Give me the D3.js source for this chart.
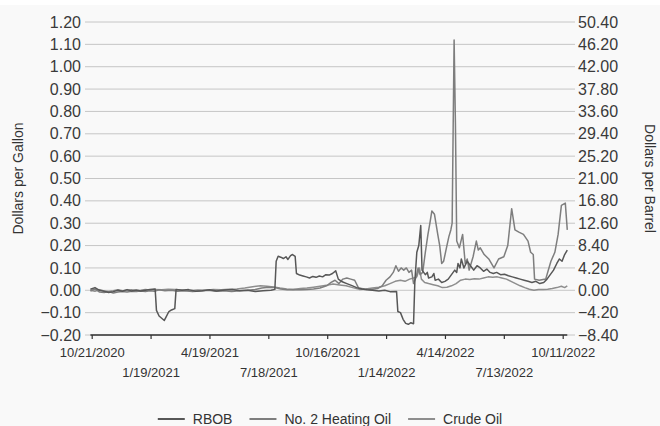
<!DOCTYPE html>
<html>
<head>
<meta charset="utf-8">
<script src="https://cdn.jsdelivr.net/npm/d3@7"></script>
<style>
  body { margin: 0; background: #ffffff; }
  svg { display: block; font-family: "Liberation Sans", Arial, sans-serif; }
</style>
</head>
<body>
<div id="chart"></div>
<script>
// Spreads, dollars per gallon (crude oil also shown as dollars per barrel on the right)
const seriesNames = ["RBOB", "No. 2 Heating Oil", "Crude Oil"];

const rbob = [
  ["2020-10-19", 0.005], ["2020-10-26", 0.012], ["2020-11-02", 0.0], ["2020-11-09", -0.004],
  ["2020-11-16", -0.01], ["2020-11-23", -0.006], ["2020-11-30", 0.0], ["2020-12-07", -0.004],
  ["2020-12-14", 0.003], ["2020-12-21", -0.003], ["2020-12-28", 0.001], ["2021-01-04", -0.003],
  ["2021-01-11", 0.0], ["2021-01-18", 0.003], ["2021-01-26", 0.006], ["2021-01-28", -0.09],
  ["2021-02-01", -0.115], ["2021-02-05", -0.125], ["2021-02-09", -0.135], ["2021-02-12", -0.118],
  ["2021-02-16", -0.095], ["2021-02-20", -0.088], ["2021-02-25", -0.082], ["2021-02-27", 0.004],
  ["2021-03-08", 0.0], ["2021-03-18", 0.003], ["2021-03-29", -0.004], ["2021-04-08", -0.002],
  ["2021-04-19", 0.002], ["2021-04-30", -0.003], ["2021-05-12", 0.001], ["2021-05-24", 0.003],
  ["2021-06-04", -0.002], ["2021-06-16", 0.0], ["2021-06-28", -0.005], ["2021-07-10", -0.002],
  ["2021-07-22", 0.0], ["2021-07-28", 0.004], ["2021-07-30", 0.13], ["2021-08-02", 0.152],
  ["2021-08-06", 0.148], ["2021-08-10", 0.142], ["2021-08-14", 0.15], ["2021-08-17", 0.138],
  ["2021-08-21", 0.155], ["2021-08-24", 0.16], ["2021-08-28", 0.152], ["2021-08-30", 0.075],
  ["2021-09-04", 0.068], ["2021-09-09", 0.064], ["2021-09-14", 0.06], ["2021-09-19", 0.055],
  ["2021-09-24", 0.062], ["2021-09-29", 0.058], ["2021-10-04", 0.064], ["2021-10-09", 0.06],
  ["2021-10-14", 0.07], ["2021-10-19", 0.068], ["2021-10-24", 0.075], ["2021-10-29", 0.087],
  ["2021-11-02", 0.05], ["2021-11-08", 0.038], ["2021-11-15", 0.03], ["2021-11-22", 0.022],
  ["2021-11-30", 0.012], ["2021-12-08", 0.006], ["2021-12-16", 0.002], ["2021-12-24", 0.0],
  ["2022-01-03", -0.003], ["2022-01-12", 0.0], ["2022-01-20", -0.006], ["2022-01-30", -0.005],
  ["2022-02-01", -0.095], ["2022-02-05", -0.1], ["2022-02-09", -0.13], ["2022-02-13", -0.148],
  ["2022-02-17", -0.152], ["2022-02-21", -0.145], ["2022-02-25", -0.15], ["2022-02-27", 0.04],
  ["2022-03-02", 0.17], ["2022-03-05", 0.2], ["2022-03-08", 0.29], ["2022-03-10", 0.09],
  ["2022-03-15", 0.07], ["2022-03-18", 0.08], ["2022-03-20", 0.055], ["2022-03-25", 0.06],
  ["2022-03-28", 0.075], ["2022-03-30", 0.045], ["2022-04-04", 0.05], ["2022-04-09", 0.035],
  ["2022-04-14", 0.04], ["2022-04-19", 0.05], ["2022-04-24", 0.07], ["2022-04-29", 0.09],
  ["2022-05-02", 0.08], ["2022-05-04", 0.12], ["2022-05-07", 0.1], ["2022-05-09", 0.14],
  ["2022-05-13", 0.1], ["2022-05-18", 0.13], ["2022-05-23", 0.11], ["2022-05-28", 0.09],
  ["2022-06-02", 0.11], ["2022-06-07", 0.1], ["2022-06-12", 0.085], ["2022-06-17", 0.095],
  ["2022-06-22", 0.08], ["2022-06-27", 0.075], ["2022-07-02", 0.08], ["2022-07-08", 0.07],
  ["2022-07-14", 0.072], ["2022-07-20", 0.065], ["2022-07-26", 0.06], ["2022-08-01", 0.055],
  ["2022-08-07", 0.05], ["2022-08-13", 0.045], ["2022-08-19", 0.04], ["2022-08-25", 0.035],
  ["2022-08-31", 0.04], ["2022-09-06", 0.03], ["2022-09-12", 0.035], ["2022-09-17", 0.05],
  ["2022-09-22", 0.07], ["2022-09-27", 0.09], ["2022-10-02", 0.12], ["2022-10-06", 0.14],
  ["2022-10-10", 0.13], ["2022-10-14", 0.16], ["2022-10-18", 0.18]
];

const heatingOil = [
  ["2020-10-19", -0.003], ["2020-10-26", 0.006], ["2020-11-02", -0.008], ["2020-11-09", -0.01],
  ["2020-11-16", -0.006], ["2020-11-23", -0.012], ["2020-11-30", -0.008], ["2020-12-07", -0.005],
  ["2020-12-14", -0.008], ["2020-12-21", -0.004], ["2020-12-28", -0.006], ["2021-01-04", -0.003],
  ["2021-01-11", -0.006], ["2021-01-18", -0.002], ["2021-01-25", -0.004], ["2021-02-01", 0.002],
  ["2021-02-10", -0.002], ["2021-02-20", 0.0], ["2021-03-01", -0.004], ["2021-03-12", -0.002],
  ["2021-03-24", -0.006], ["2021-04-05", -0.003], ["2021-04-17", 0.0], ["2021-04-29", -0.004],
  ["2021-05-11", -0.002], ["2021-05-23", -0.005], ["2021-06-04", -0.002], ["2021-06-16", 0.0],
  ["2021-06-28", 0.004], ["2021-07-08", 0.01], ["2021-07-18", 0.014], ["2021-07-28", 0.012],
  ["2021-08-06", 0.006], ["2021-08-16", 0.002], ["2021-08-26", 0.004], ["2021-09-05", 0.002],
  ["2021-09-15", 0.004], ["2021-09-25", 0.006], ["2021-10-05", 0.01], ["2021-10-15", 0.02],
  ["2021-10-22", 0.035], ["2021-10-28", 0.045], ["2021-11-03", 0.03], ["2021-11-09", 0.05],
  ["2021-11-15", 0.055], ["2021-11-21", 0.05], ["2021-11-27", 0.045], ["2021-12-03", 0.01],
  ["2021-12-12", 0.006], ["2021-12-22", 0.004], ["2022-01-01", 0.008], ["2022-01-08", 0.02],
  ["2022-01-14", 0.045], ["2022-01-20", 0.06], ["2022-01-25", 0.08], ["2022-01-29", 0.11],
  ["2022-02-02", 0.085], ["2022-02-06", 0.1], ["2022-02-10", 0.09], ["2022-02-14", 0.1],
  ["2022-02-18", 0.08], ["2022-02-22", 0.09], ["2022-02-25", 0.03], ["2022-03-01", 0.06],
  ["2022-03-04", 0.1], ["2022-03-07", 0.07], ["2022-03-11", 0.08], ["2022-03-15", 0.17],
  ["2022-03-19", 0.25], ["2022-03-22", 0.3], ["2022-03-25", 0.355], ["2022-03-29", 0.34],
  ["2022-04-03", 0.25], ["2022-04-06", 0.2], ["2022-04-09", 0.12], ["2022-04-12", 0.13],
  ["2022-04-17", 0.2], ["2022-04-20", 0.24], ["2022-04-23", 0.27], ["2022-04-25", 0.3],
  ["2022-04-28", 1.12], ["2022-04-30", 0.75], ["2022-05-02", 0.22], ["2022-05-06", 0.19],
  ["2022-05-11", 0.25], ["2022-05-15", 0.12], ["2022-05-18", 0.14], ["2022-05-21", 0.09],
  ["2022-05-27", 0.15], ["2022-06-01", 0.22], ["2022-06-04", 0.18], ["2022-06-07", 0.19],
  ["2022-06-13", 0.16], ["2022-06-20", 0.14], ["2022-06-24", 0.12], ["2022-06-28", 0.1],
  ["2022-07-05", 0.14], ["2022-07-13", 0.15], ["2022-07-19", 0.2], ["2022-07-25", 0.365],
  ["2022-07-30", 0.27], ["2022-08-05", 0.26], ["2022-08-12", 0.25], ["2022-08-19", 0.22],
  ["2022-08-23", 0.17], ["2022-08-27", 0.16], ["2022-08-29", 0.05], ["2022-09-05", 0.045],
  ["2022-09-15", 0.05], ["2022-09-23", 0.13], ["2022-09-29", 0.17], ["2022-10-04", 0.25],
  ["2022-10-09", 0.38], ["2022-10-15", 0.39], ["2022-10-18", 0.27]
];

const crudeOil = [
  ["2020-10-19", 0.0], ["2020-10-26", -0.004], ["2020-11-02", 0.003], ["2020-11-09", -0.003],
  ["2020-11-16", -0.005], ["2020-11-23", -0.002], ["2020-11-30", 0.002], ["2020-12-07", -0.002],
  ["2020-12-14", 0.0], ["2020-12-21", 0.002], ["2020-12-28", -0.002], ["2021-01-04", 0.0],
  ["2021-01-11", 0.003], ["2021-01-18", 0.001], ["2021-01-25", 0.004], ["2021-02-05", 0.002],
  ["2021-02-15", 0.005], ["2021-02-25", 0.003], ["2021-03-08", 0.001], ["2021-03-20", -0.002],
  ["2021-04-01", 0.001], ["2021-04-13", 0.0], ["2021-04-25", 0.003], ["2021-05-07", 0.002],
  ["2021-05-19", 0.005], ["2021-05-31", 0.006], ["2021-06-12", 0.01], ["2021-06-24", 0.016],
  ["2021-07-06", 0.02], ["2021-07-16", 0.018], ["2021-07-26", 0.015], ["2021-08-05", 0.01],
  ["2021-08-15", 0.006], ["2021-08-25", 0.004], ["2021-09-05", 0.008], ["2021-09-15", 0.01],
  ["2021-09-25", 0.014], ["2021-10-05", 0.018], ["2021-10-15", 0.022], ["2021-10-25", 0.028],
  ["2021-11-04", 0.024], ["2021-11-14", 0.02], ["2021-11-24", 0.012], ["2021-12-04", 0.004],
  ["2021-12-14", 0.006], ["2021-12-24", 0.01], ["2022-01-03", 0.014], ["2022-01-12", 0.02],
  ["2022-01-20", 0.03], ["2022-01-28", 0.04], ["2022-02-05", 0.045], ["2022-02-12", 0.04],
  ["2022-02-19", 0.05], ["2022-02-25", 0.055], ["2022-03-02", 0.06], ["2022-03-06", 0.1],
  ["2022-03-09", 0.05], ["2022-03-14", 0.035], ["2022-03-20", 0.03], ["2022-03-27", 0.025],
  ["2022-04-03", 0.02], ["2022-04-10", 0.012], ["2022-04-17", 0.014], ["2022-04-24", 0.02],
  ["2022-05-01", 0.03], ["2022-05-08", 0.045], ["2022-05-15", 0.05], ["2022-05-22", 0.048],
  ["2022-05-29", 0.052], ["2022-06-05", 0.05], ["2022-06-12", 0.055], ["2022-06-19", 0.06],
  ["2022-06-26", 0.058], ["2022-07-03", 0.06], ["2022-07-10", 0.055], ["2022-07-17", 0.05],
  ["2022-07-24", 0.04], ["2022-07-31", 0.03], ["2022-08-07", 0.02], ["2022-08-14", 0.012],
  ["2022-08-21", 0.005], ["2022-08-28", 0.0], ["2022-09-04", 0.004], ["2022-09-11", 0.003],
  ["2022-09-18", 0.005], ["2022-09-25", 0.008], ["2022-10-02", 0.012], ["2022-10-09", 0.018],
  ["2022-10-14", 0.012], ["2022-10-18", 0.02]
];

// Axis ticks
const dateTicks = ["10/21/2020", "1/19/2021", "4/19/2021", "7/18/2021", "10/16/2021",
                   "1/14/2022", "4/14/2022", "7/13/2022", "10/11/2022"];
const gallonTicks = [-0.2, -0.1, 0, 0.1, 0.2, 0.3, 0.4, 0.5, 0.6, 0.7, 0.8, 0.9, 1.0, 1.1, 1.2];
const barrelTicks = [-8.4, -4.2, 0, 4.2, 8.4, 12.6, 16.8, 21.0, 25.2, 29.4, 33.6, 37.8, 42.0, 46.2, 50.4];

const colors = ["#575757", "#7e7e7e", "#8e8e8e"];

const W = 660, H = 426;
const plot = { left: 85, right: 575, top: 22, bottom: 335 };

const parseIso = d3.timeParse("%Y-%m-%d");
const parseUs = d3.timeParse("%m/%d/%Y");
const fmtUs = d3.timeFormat("%-m/%-d/%Y");

const series = [rbob, heatingOil, crudeOil].map((arr, i) => ({
  name: seriesNames[i],
  color: colors[i],
  values: arr.map(d => ({ date: parseIso(d[0]), value: d[1] }))
}));

const tickDates = dateTicks.map(parseUs);

const svg = d3.select("#chart").append("svg")
  .attr("width", W)
  .attr("height", H);

// panel background
svg.append("rect")
  .attr("x", 0).attr("y", 5)
  .attr("width", W).attr("height", H - 5)
  .attr("fill", "#f9f9f9");

// scales: first and last tick anchor the time axis
const x = d3.scaleTime()
  .domain([tickDates[0], tickDates[tickDates.length - 1]])
  .range([91.7, 562.7]);

const y = d3.scaleLinear()
  .domain([-0.2, 1.2])
  .range([plot.bottom, plot.top]);

const y2 = d3.scaleLinear()
  .domain([-8.4, 50.4])
  .range([plot.bottom, plot.top]);

// gridlines
svg.append("g")
  .selectAll("line")
  .data(gallonTicks)
  .join("line")
  .attr("x1", plot.left)
  .attr("x2", plot.right)
  .attr("y1", d => y(d))
  .attr("y2", d => y(d))
  .attr("stroke", "#c6c6c6")
  .attr("stroke-width", 1);

// left axis
const leftAxis = svg.append("g")
  .attr("transform", `translate(${plot.left},0)`)
  .call(d3.axisLeft(y).tickValues(gallonTicks).tickSize(0).tickPadding(4).tickFormat(d3.format(".2f")));
leftAxis.select(".domain").remove();
leftAxis.selectAll("text")
  .attr("fill", "#3a3a3a")
  .style("font-size", "16px")
  .style("font-family", "'Liberation Sans', Arial, sans-serif");

// right axis
const rightAxis = svg.append("g")
  .attr("transform", `translate(${plot.right},0)`)
  .call(d3.axisRight(y2).tickValues(barrelTicks).tickSize(0).tickPadding(3).tickFormat(d3.format(".2f")));
rightAxis.select(".domain").remove();
rightAxis.selectAll("text")
  .attr("fill", "#3a3a3a")
  .style("font-size", "16px")
  .style("font-family", "'Liberation Sans', Arial, sans-serif");

// bottom axis
const allDates = series[0].values.map(d => d.date);
svg.append("line")
  .attr("x1", x(d3.min(allDates)))
  .attr("x2", x(d3.max(allDates)))
  .attr("y1", plot.bottom)
  .attr("y2", plot.bottom)
  .attr("stroke", "#333")
  .attr("stroke-width", 1.5);

const bottomAxis = svg.append("g")
  .attr("transform", `translate(0,${plot.bottom})`)
  .call(d3.axisBottom(x).tickValues(tickDates).tickSize(4).tickFormat(fmtUs));
bottomAxis.select(".domain").remove();
bottomAxis.selectAll(".tick line").attr("stroke", "#333").attr("stroke-width", 1.2);
bottomAxis.selectAll("text")
  .attr("dy", null)
  .attr("y", (d, i) => i % 2 === 0 ? 22 : 42)
  .attr("fill", "#333")
  .style("font-size", "13px")
  .style("font-family", "'Liberation Sans', Arial, sans-serif");

// lines
const line = d3.line()
  .x(d => x(d.date))
  .y(d => y(d.value));

svg.append("g")
  .selectAll("path")
  .data(series.slice().reverse())
  .join("path")
  .attr("d", d => line(d.values))
  .attr("fill", "none")
  .attr("stroke", d => d.color)
  .attr("stroke-width", 1.5)
  .attr("stroke-linejoin", "round");

// axis titles
const midY = (plot.top + plot.bottom) / 2;
svg.append("text")
  .attr("transform", `translate(23,${midY}) rotate(-90)`)
  .attr("text-anchor", "middle")
  .attr("fill", "#333")
  .style("font-size", "14px")
  .text("Dollars per Gallon");

svg.append("text")
  .attr("transform", `translate(645,${midY}) rotate(90)`)
  .attr("text-anchor", "middle")
  .attr("fill", "#333")
  .style("font-size", "14px")
  .text("Dollars per Barrel");

// legend
const legend = svg.append("g").attr("transform", "translate(0,419)");
const items = legend.selectAll("g")
  .data(series)
  .join("g");
items.append("line")
  .attr("x1", 0).attr("x2", 27)
  .attr("y1", 0).attr("y2", 0)
  .attr("stroke", d => d.color)
  .attr("stroke-width", 2);
items.append("text")
  .attr("x", 35)
  .attr("y", 5)
  .attr("fill", "#333")
  .style("font-size", "14px")
  .text(d => d.name);

let offset = 0;
const widths = [];
items.each(function () {
  const w = 35 + this.querySelector("text").getComputedTextLength();
  widths.push(w);
});
const gap = 17;
const total = d3.sum(widths) + gap * (widths.length - 1);
let start = (plot.left + plot.right) / 2 - total / 2;
items.attr("transform", (d, i) => {
  const pos = start + offset;
  offset += widths[i] + gap;
  return `translate(${pos},0)`;
});
</script>
</body>
</html>
